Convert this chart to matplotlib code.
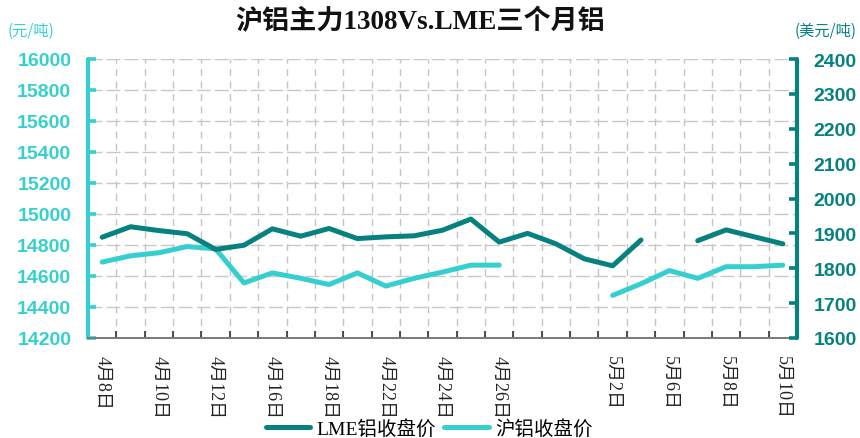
import numpy as np
import matplotlib
matplotlib.use("Agg")
import matplotlib.pyplot as plt
from matplotlib.lines import Line2D

nan = np.nan

# ---- data ----
dates = ['4月8日', '4月9日', '4月10日', '4月11日', '4月12日', '4月15日', '4月16日',
         '4月17日', '4月18日', '4月19日', '4月22日', '4月23日', '4月24日', '4月25日',
         '4月26日', '4月29日', '4月30日', '5月1日', '5月2日', '5月3日', '5月6日',
         '5月7日', '5月8日', '5月9日', '5月10日']
shown_labels = ['4月8日', '4月10日', '4月12日', '4月16日', '4月18日', '4月22日',
                '4月24日', '4月26日', '', '5月2日', '5月6日', '5月8日', '5月10日']
shfe_close = [14690, 14730, 14750, 14790, 14775, 14555, 14620, 14585, 14545, 14620,
              14535, 14585, 14625, 14670, 14670, nan, nan, nan, 14475, 14550,
              14635, 14585, 14660, 14660, 14670]
lme_close = [1889, 1919, 1908, 1899, 1854, 1866, 1913, 1892, 1914, 1885,
             1890, 1893, 1909, 1941, 1875, 1900, 1870, 1827, 1807, 1881,
             nan, 1879, 1910, 1890, 1870]
left_ticks = [14200, 14400, 14600, 14800, 15000, 15200, 15400, 15600, 15800, 16000]
right_ticks = [1600, 1700, 1800, 1900, 2000, 2100, 2200, 2300, 2400]
title = '沪铝主力1308Vs.LME三个月铝'
left_unit = '(元/吨)'
right_unit = '(美元/吨)'
series_names = ['LME铝收盘价', '沪铝收盘价']

# ---- style ----
C_LME = '#078180'
C_SH = '#36CFCF'
SERIF_CJK = ['Liberation Serif', 'Noto Sans CJK SC']
SANS_CJK = ['Noto Sans CJK SC', 'DejaVu Sans']

fig = plt.figure(figsize=(8.6, 4.39), dpi=100)
ax = fig.add_axes([88 / 860, 1 - 339 / 439, (797 - 88) / 860, (339 - 60) / 439])
ax2 = ax.twinx()

x = np.arange(len(dates))

ax.plot(x, shfe_close, color=C_SH, lw=3.6, solid_capstyle='round',
        solid_joinstyle='round', zorder=3)
ax2.plot(x, lme_close, color=C_LME, lw=3.6, solid_capstyle='round',
         solid_joinstyle='round', zorder=3)

ax.set_xlim(-0.5, len(dates) - 0.5)
ax.set_ylim(left_ticks[0], left_ticks[-1])
ax2.set_ylim(right_ticks[0], right_ticks[-1])

# x ticks: labels every other category, tick marks at boundaries
major_pos = [dates.index(d) for d in shown_labels if d]
ax.set_xticks(major_pos)
ax.set_xticklabels([d for d in shown_labels if d], rotation=-90,
                   family=SERIF_CJK, fontsize=13, color='#222222',
                   va='top', ha='center')
ax.set_xticks(np.arange(-0.5, len(dates), 1.0), minor=True)
ax.tick_params(axis='x', which='major', length=0, pad=12)
ax.tick_params(axis='x', which='minor', direction='in', length=5, width=1.2,
               color='#333333')

# grid
ax.grid(which='minor', axis='x', color='#c4c4c4', lw=1.0, linestyle=(0, (5, 4)))
ax.grid(which='major', axis='y', color='#c8c8c8', lw=1.0, linestyle=(0, (10, 3)))
ax.set_axisbelow(True)

# left axis
ax.set_yticks(left_ticks)
ax.set_yticklabels([str(v) for v in left_ticks], family='Liberation Sans',
                   fontweight='bold', fontsize=14, color=C_SH)
ax.tick_params(axis='y', direction='in', length=5.5, width=2.6, color=C_SH, pad=12)
ax2.set_yticks(right_ticks)
ax2.set_yticklabels([str(v) for v in right_ticks], family='Liberation Sans',
                    fontweight='bold', fontsize=14, color=C_LME)
ax2.tick_params(axis='y', direction='in', length=5.5, width=2.6, color=C_LME, pad=12)

for a in (ax, ax2):
    a.spines['top'].set_visible(False)
ax.spines['right'].set_visible(False)
ax2.spines['left'].set_visible(False)
ax2.spines['bottom'].set_visible(False)
ax.spines['left'].set_color(C_SH)
ax.spines['left'].set_linewidth(3.0)
ax.spines['left'].set_capstyle('round')
ax2.spines['right'].set_color(C_LME)
ax2.spines['right'].set_linewidth(3.0)
ax2.spines['right'].set_capstyle('round')
ax.spines['bottom'].set_color('#7a7a7a')
ax.spines['bottom'].set_linewidth(1.4)

# title & units
fig.text(420 / 860, 1 - 22 / 439, title, ha='center', va='center',
         family=SERIF_CJK, fontsize=19.5, fontweight='bold', color='#111111')
fig.text(8 / 860, 1 - 31 / 439, left_unit, ha='left', va='center',
         family=SANS_CJK, fontsize=11, color=C_SH)
fig.text(857 / 860, 1 - 31 / 439, right_unit, ha='right', va='center',
         family=SANS_CJK, fontsize=11, color=C_LME)

# legend
handles = [Line2D([], [], color=C_LME, lw=3.6, solid_capstyle='round'),
           Line2D([], [], color=C_SH, lw=3.6, solid_capstyle='round')]
fig.legend(handles, series_names, loc='center', ncol=2,
           bbox_to_anchor=(429 / 860, 1 - 429 / 439), frameon=False,
           prop={'family': SERIF_CJK, 'size': 14}, handlelength=2.3,
           handletextpad=0.3, columnspacing=0.45, borderpad=0, borderaxespad=0)

fig.savefig('out.png', dpi=100)
